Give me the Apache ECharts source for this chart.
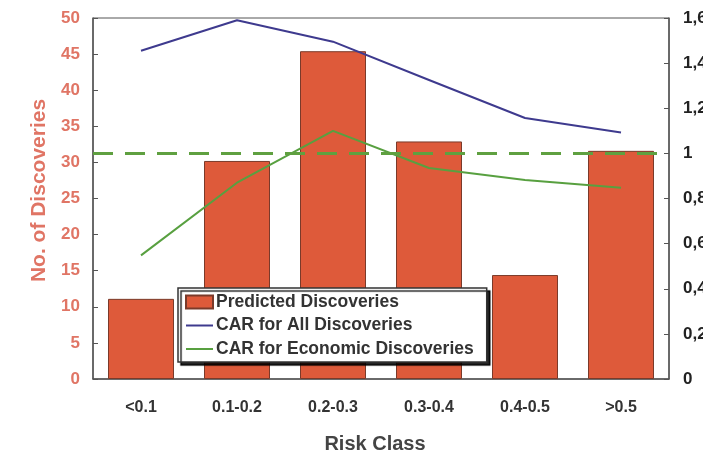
<!DOCTYPE html>
<html>
<head>
<meta charset="utf-8">
<script src="https://cdn.jsdelivr.net/npm/echarts@6/dist/echarts.min.js"></script>
<style>html,body{margin:0;padding:0;background:#fff;}#c{width:703px;height:453px;}</style>
</head>
<body>
<div id="c"></div>
<script>
var categories = ['<0.1', '0.1-0.2', '0.2-0.3', '0.3-0.4', '0.4-0.5', '>0.5'];
var predictedDiscoveries = [11.1, 30.2, 45.4, 32.9, 14.4, 31.6];
var carAll = [1.455, 1.59, 1.495, 1.325, 1.157, 1.093];
var carEconomic = [0.548, 0.87, 1.1, 0.935, 0.882, 0.848];
var referenceLevel = 1.0;
var leftTicks = [0, 5, 10, 15, 20, 25, 30, 35, 40, 45, 50];
var rightTicks = [0, 0.2, 0.4, 0.6, 0.8, 1.0, 1.2, 1.4, 1.6];

var salmon = '#e07565';
var blue = '#3e3a8e';
var green = '#58a040';
var lineIcon = 'path://M0,0 L27,0 L27,2 L0,2 Z';
var chart = echarts.init(document.getElementById('c'));
var fontFam = '"Liberation Sans", Arial, Helvetica, sans-serif';
chart.setOption({
  animation: false,
  backgroundColor: '#fff',
  textStyle: { fontFamily: fontFam },
  grid: { left: 93, right: 34, top: 18, bottom: 74, show: true, borderColor: '#555', borderWidth: 1, outerBoundsMode: 'none', containLabel: false },
  legend: {
    orient: 'vertical',
    left: 178, top: 288,
    padding: [5, 13, 4, 7],
    itemGap: 5.5,
    itemWidth: 27, itemHeight: 13,
    backgroundColor: '#fff',
    borderColor: '#333', borderWidth: 1.5, borderRadius: 0,
    shadowColor: 'rgba(0,0,0,0.85)', shadowOffsetX: 3, shadowOffsetY: 3, shadowBlur: 1,
    textStyle: { fontSize: 17.5, fontWeight: 'bold', color: '#333', fontFamily: fontFam, padding: [0, 0, 0, -2] },
    data: [
      { name: 'Predicted Discoveries', icon: 'rect' },
      { name: 'CAR for All Discoveries', icon: lineIcon, itemStyle: { color: blue } },
      { name: 'CAR for Economic Discoveries', icon: lineIcon, itemStyle: { color: green } }
    ]
  },
  xAxis: {
    type: 'category',
    data: categories,
    name: 'Risk Class',
    nameLocation: 'middle',
    nameGap: 55,
    nameTextStyle: { fontSize: 20, fontWeight: 'bold', color: '#444', padding: [0, 12, 0, 0] },
    axisLine: { lineStyle: { color: '#555', width: 1.5 } },
    axisTick: { inside: true, length: 5, lineStyle: { color: '#555' } },
    axisLabel: { fontSize: 16, fontWeight: 'bold', color: '#333', margin: 21 }
  },
  yAxis: [
    {
      type: 'value', min: leftTicks[0], max: leftTicks[leftTicks.length - 1], interval: 5,
      name: 'No. of Discoveries',
      nameLocation: 'middle',
      nameGap: 43,
      nameTextStyle: { fontSize: 21, fontWeight: 'bold', color: salmon, padding: [0, 0, 0, 16] },
      axisLine: { show: true, lineStyle: { color: '#555', width: 1.5 } },
      axisTick: { show: true, inside: true, length: 5, lineStyle: { color: '#555' } },
      axisLabel: { fontSize: 17, fontWeight: 'bold', color: salmon, margin: 13 },
      splitLine: { show: false }
    },
    {
      type: 'value', min: rightTicks[0], max: rightTicks[rightTicks.length - 1], interval: 0.2,
      axisLine: { show: true, lineStyle: { color: '#555', width: 1.5 } },
      axisTick: { show: true, inside: true, length: 5, lineStyle: { color: '#555' } },
      axisLabel: {
        fontSize: 17, fontWeight: 'bold', color: '#222', margin: 14,
        formatter: function (v) { return String(+v.toFixed(1)).replace('.', ','); }
      },
      splitLine: { show: false }
    }
  ],
  series: [
    {
      name: 'Predicted Discoveries',
      type: 'bar',
      data: predictedDiscoveries,
      barWidth: 66,
      itemStyle: { color: '#de5a3a', borderColor: '#7a3a2a', borderWidth: 1 },
      z: 2
    },
    {
      name: 'CAR for All Discoveries',
      type: 'line',
      yAxisIndex: 1,
      data: carAll,
      symbol: 'none',
      lineStyle: { color: blue, width: 2 },
      itemStyle: { color: blue },
      z: 3
    },
    {
      name: 'CAR for Economic Discoveries',
      type: 'line',
      yAxisIndex: 1,
      data: carEconomic,
      symbol: 'none',
      lineStyle: { color: green, width: 2 },
      itemStyle: { color: green },
      z: 3,
      markLine: {
        silent: true,
        symbol: 'none',
        label: { show: false },
        lineStyle: { color: '#5fa040', width: 3, type: [20, 12] },
        data: [{ yAxis: referenceLevel }]
      }
    }
  ]
});
</script>
</body>
</html>
